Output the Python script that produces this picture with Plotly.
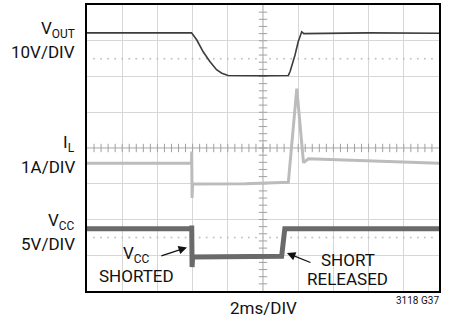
import numpy as np
import plotly.graph_objects as go

# ---- data (time in divisions, level in divisions) ----
vout_t = [0, 2.97, 3.12, 3.30, 3.49, 3.68, 3.83, 4.01, 5.0, 5.72, 5.77, 5.91, 6.00, 6.10, 6.16, 8.0, 10]
vout_v = [7.22, 7.22, 7.02, 6.69, 6.42, 6.19, 6.09, 6.03, 6.02, 6.03, 6.14, 6.60, 6.97, 7.25, 7.20, 7.22, 7.21]

il_t = [0, 2.97, 2.975, 2.985, 3.0, 4.5, 5.70, 5.72, 5.96, 6.15, 6.29, 8.13, 10]
il_v = [3.57, 3.57, 3.90, 2.60, 2.99, 3.00, 3.02, 3.04, 5.66, 3.59, 3.70, 3.64, 3.57]

vcc_t = [0, 2.97, 2.975, 2.985, 3.0, 5.53, 5.58, 5.62, 10]
vcc_v = [1.74, 1.74, 1.83, 0.67, 0.95, 0.97, 1.42, 1.74, 1.74]

left_labels = ["V<sub>OUT</sub>", "10V/DIV", "I<sub>L</sub>", "1A/DIV", "V<sub>CC</sub>", "5V/DIV"]
left_label_y = [7.32, 6.68, 4.13, 3.48, 1.94, 1.32]

x_title = "2ms/DIV"
fig_code = "3118 G37"

FONT = "Roboto, Liberation Sans, Arial, sans-serif"
FS = 17

fig = go.Figure()

# dotted reference lines
dots_x = np.arange(0.2, 10, 0.2)
for yv in (6.5, 1.5):
    fig.add_trace(go.Scatter(x=dots_x, y=[yv] * len(dots_x), mode="markers",
                             marker=dict(size=2, color="#c4c4c4"), hoverinfo="skip", showlegend=False))

# center axes ticks
tx = np.arange(0.2, 10, 0.2)
fig.add_trace(go.Scatter(x=tx, y=[4] * len(tx), mode="markers",
                         marker=dict(symbol="line-ns", size=6, line=dict(width=1, color="#a0a0a0")),
                         hoverinfo="skip", showlegend=False))
ty = np.arange(0.2, 8, 0.2)
fig.add_trace(go.Scatter(x=[5] * len(ty), y=ty, mode="markers",
                         marker=dict(symbol="line-ew", size=6, line=dict(width=1, color="#a0a0a0")),
                         hoverinfo="skip", showlegend=False))

fig.add_shape(type="line", x0=0, x1=10, y0=4, y1=4, line=dict(color="#a0a0a0", width=1), layer="below")
fig.add_shape(type="line", x0=5, x1=5, y0=0, y1=8, line=dict(color="#a0a0a0", width=1), layer="below")

# traces
fig.add_trace(go.Scatter(x=vcc_t, y=vcc_v, mode="lines", line=dict(color="#6a6a6a", width=5),
                         showlegend=False, hoverinfo="skip"))
fig.add_trace(go.Scatter(x=il_t, y=il_v, mode="lines", line=dict(color="#bcbcbc", width=3),
                         showlegend=False, hoverinfo="skip"))
fig.add_trace(go.Scatter(x=vout_t, y=vout_v, mode="lines", line=dict(color="#3c3c3c", width=1.6),
                         showlegend=False, hoverinfo="skip"))

# left labels (paper coords)
for txt, yv in zip(left_labels, left_label_y):
    fig.add_annotation(x=-0.028, y=yv / 8, xref="paper", yref="paper", text=txt, showarrow=False,
                       xanchor="right", yanchor="middle", font=dict(size=FS, color="#111", family=FONT))

# in-plot annotations
fig.add_annotation(x=1.42, y=1.03, text="V<sub>CC</sub>", showarrow=False, yanchor="middle",
                   font=dict(size=FS, color="#111", family=FONT))
fig.add_annotation(x=1.42, y=0.43, text="SHORTED", showarrow=False, yanchor="middle",
                   font=dict(size=FS, color="#111", family=FONT))
fig.add_annotation(x=7.41, y=0.86, text="SHORT", showarrow=False, yanchor="middle",
                   font=dict(size=FS, color="#111", family=FONT))
fig.add_annotation(x=7.41, y=0.33, text="RELEASED", showarrow=False, yanchor="middle",
                   font=dict(size=FS, color="#111", family=FONT))

# arrows
fig.add_annotation(x=2.84, y=1.22, ax=2.07, ay=0.97, axref="x", ayref="y", text="",
                   showarrow=True, arrowhead=2, arrowsize=1.3, arrowwidth=1.3, arrowcolor="#111")
fig.add_annotation(x=5.68, y=1.06, ax=6.39, ay=0.78, axref="x", ayref="y", text="",
                   showarrow=True, arrowhead=2, arrowsize=1.3, arrowwidth=1.3, arrowcolor="#111")

fig.add_annotation(x=0.5, y=-0.48 / 8, xref="paper", yref="paper", text=x_title, showarrow=False,
                   xanchor="center", yanchor="middle", font=dict(size=FS, color="#111", family=FONT))
fig.add_annotation(x=9.38 / 10, y=-0.26 / 8, xref="paper", yref="paper", text=fig_code, showarrow=False,
                   xanchor="center", yanchor="middle", font=dict(size=10, color="#111", family=FONT))

fig.update_xaxes(range=[0, 10], dtick=1, showgrid=True, gridcolor="#d6d6d6", gridwidth=1,
                 zeroline=False, showticklabels=False, ticks="",
                 showline=True, mirror=True, linecolor="#000", linewidth=2)
fig.update_yaxes(range=[0, 8], dtick=1, showgrid=True, gridcolor="#d6d6d6", gridwidth=1,
                 zeroline=False, showticklabels=False, ticks="",
                 showline=True, mirror=True, linecolor="#000", linewidth=2)

fig.update_layout(width=453, height=322, margin=dict(l=87, r=14, t=3, b=31),
                  paper_bgcolor="white", plot_bgcolor="white", showlegend=False)

fig.write_html("out.html", config={"displayModeBar": False},
               post_script="document.body.style.margin='0';")
